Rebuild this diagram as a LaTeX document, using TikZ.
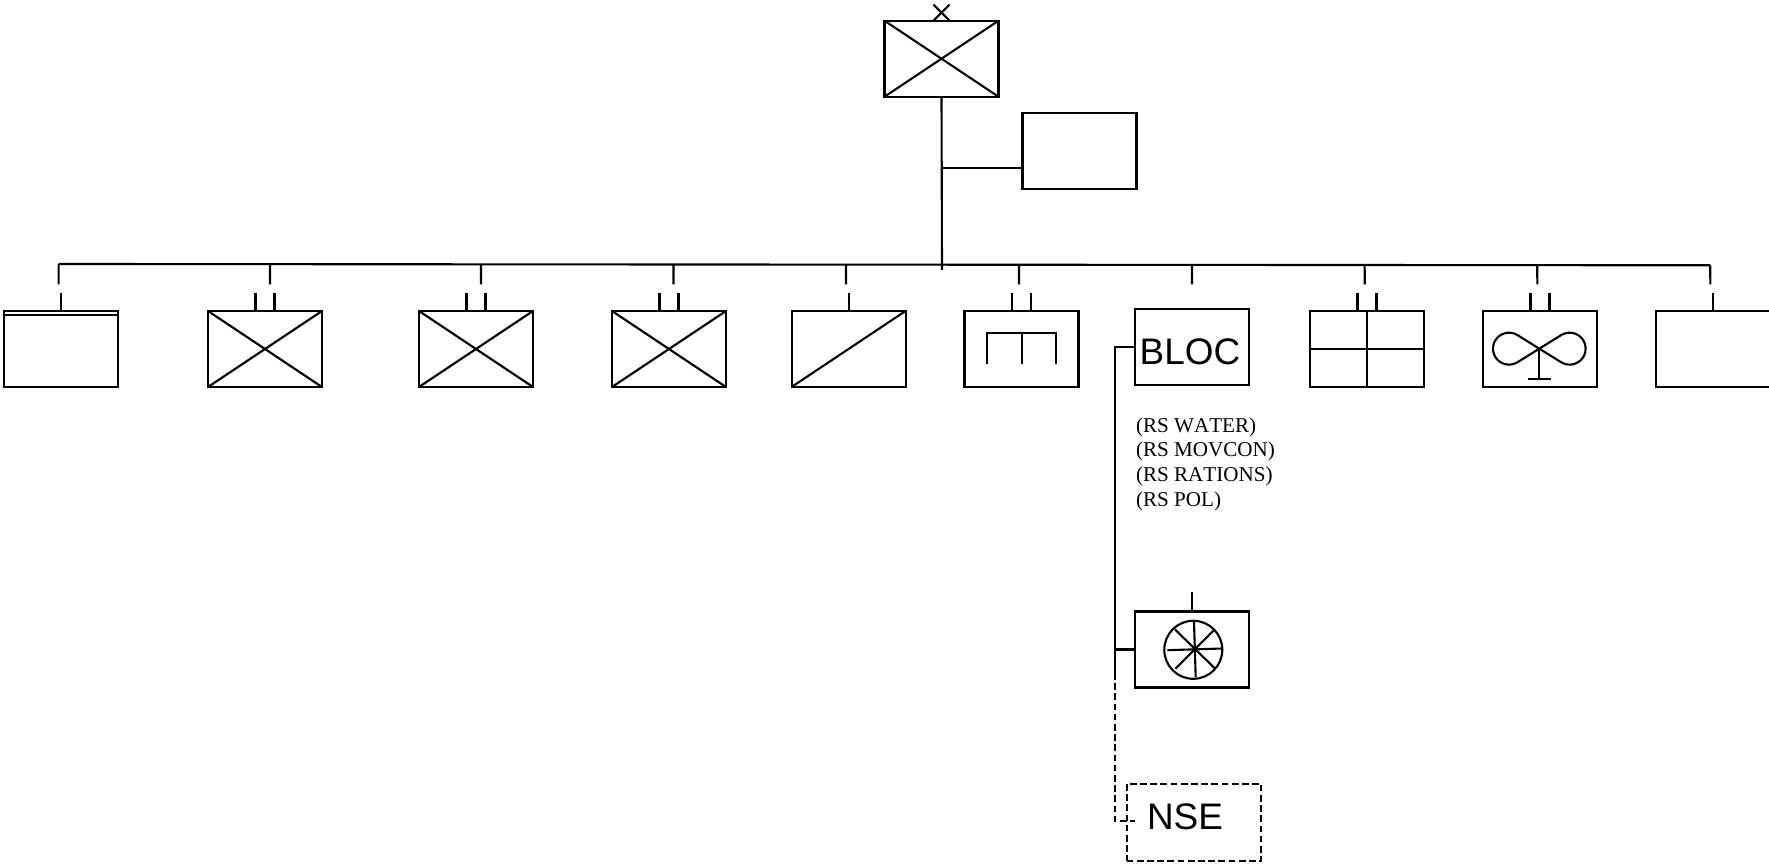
\documentclass[tikz,border=0pt]{standalone}
\usepackage{fontspec}
\setmainfont{Liberation Sans}
\newfontfamily\rsfont[Kerning=Off]{Liberation Serif}
\usetikzlibrary{calc}

\begin{document}
\begin{tikzpicture}[
    x=0.01cm, y=-0.01cm,
    line width=0.6pt,
    unitbox/.style={
      rectangle, draw=black, minimum width=1.14cm, minimum height=0.76cm,
      inner sep=0pt, outer sep=0pt
    },
    bigword/.style={font=\fontsize{10.5}{12}\selectfont, inner sep=0pt},
    rsnote/.style={font=\rsfont\fontsize{6}{7.05}\selectfont, align=left, inner sep=0pt},
    dashlink/.style={dash pattern=on 1.9pt off 1pt}
  ]
  \useasboundingbox (0,0) rectangle (1769,864);

  \node[unitbox] (top)  at (941.5,58.7) {};
  \node[unitbox] (side) at (1079.5,151) {};

  \node[unitbox] (b1)  at (60.7,349)  {};
  \node[unitbox] (b2)  at (265,349) {};
  \node[unitbox] (b3)  at (476,349) {};
  \node[unitbox] (b4)  at (669,349) {};
  \node[unitbox] (b5)  at (849,348.7) {};
  \node[unitbox] (b6)  at (1021.5,348.7) {};
  \node[unitbox] (bloc) at (1192,347)   {};
  \node[unitbox] (b8)  at (1367,348.7)  {};
  \node[unitbox] (b9)  at (1540,348.7)  {};
  \node[unitbox] (b10) at (1712.7,348.7) {};
  \node[unitbox] (wheel) at (1192,649.5)  {};
  \node[unitbox, dashlink, minimum width=1.346cm, minimum height=0.77cm] (nse) at (1194,822.2) {};

  \node[bigword] (bloctext) at (1190,351.5) {BLOC};
  \node[bigword] (nsetext)  at (1185,817) {NSE};
  \node[rsnote, anchor=north west] (rs) at (1135,416.5)
    {(RS WATER)\\(RS MOVCON)\\(RS RATIONS)\\(RS POL)};

  % bus and trunk
  \coordinate (busl) at (58.6,264);
  \coordinate (busr) at (1710.3,265.3);
  \coordinate (trunkend) at (942,270);
  \draw (busl) -- (busr);
  \draw (top.south) -- (trunkend);
  \draw ($(side.west)+(0,17)$) -- ++(-79.5,0);

  \foreach \nm/\xpos in {b1/58.6,b2/270,b3/481,b4/673.5,b5/846,b6/1019,bloc/1192,b8/1364.7,b9/1537.3,b10/1710.3} {
    \coordinate (tap\nm) at (\xpos,284.5);
    \draw (tap\nm) -- ($(busl)!(tap\nm)!(busr)$);
  }

  % stubs on top of the boxes
  \foreach \nm in {b1,b5,b10}
    \draw (\nm.north) -- ++(0,-18);
  \foreach \nm in {b2,b3,b4,b6,b8,b9} {
    \draw ($(\nm.north)+(-9.5,0)$) -- ++(0,-18);
    \draw ($(\nm.north)+(9.5,0)$) -- ++(0,-18);
  }
  \draw (wheel.north) -- ++(0,-19.6);
  \draw ($(top.north)+(-8,0)$) -- ++(16,-16);
  \draw ($(top.north)+(8,0)$) -- ++(-16,-16);

  % symbols
  \foreach \nm in {top,b2,b3,b4} {
    \draw (\nm.north west) -- (\nm.south east);
    \draw (\nm.south west) -- (\nm.north east);
  }
  \draw (b1.north west) ++(0,4) -- ++(114,0);
  \draw (b5.south west) -- (b5.north east);
  \draw (b8.north) -- (b8.south);
  \draw (b8.west) -- (b8.east);
  \begin{scope}[shift={(b6.center)}]
    \draw (-34.2,15.6) -- (-34.2,-15.7) -- (34.5,-15.7) -- (34.5,15.6);
    \draw (0.2,-15.7) -- (0.2,15.6);
  \end{scope}
  \begin{scope}[shift={(b9.center)}, xshift=-0.007cm]
    \draw (0,0) -- (-21.85,-13.6) arc[start angle=58.1, end angle=301.9, radius=0.16cm]
      -- (21.85,-13.6) arc[start angle=121.9, end angle=-121.9, radius=0.16cm] -- cycle;
    \draw (0,0) -- (0,30);
    \draw (-11.7,30) -- (11.7,30);
  \end{scope}
  \begin{scope}[shift={(wheel.center)}]
    \draw (1.3,0.3) circle[radius=0.29cm];
    \draw (2,-27.3) -- (3.7,27.7);
    \draw (-24.7,0.7) -- (30.3,-1);
    \draw (-17,-20) -- (23.3,19.3);
    \draw (21.7,-19) -- (-16.7,19.3);
  \end{scope}

  % left spine
  \coordinate (spine) at (1115,673);
  \coordinate (nsetap) at (1135,821);
  \draw (bloc.west) -| (spine);
  \draw (wheel.west) -- (wheel.west -| spine);
  \draw[dashlink] (spine) |- (nsetap);
\end{tikzpicture}
\end{document}
